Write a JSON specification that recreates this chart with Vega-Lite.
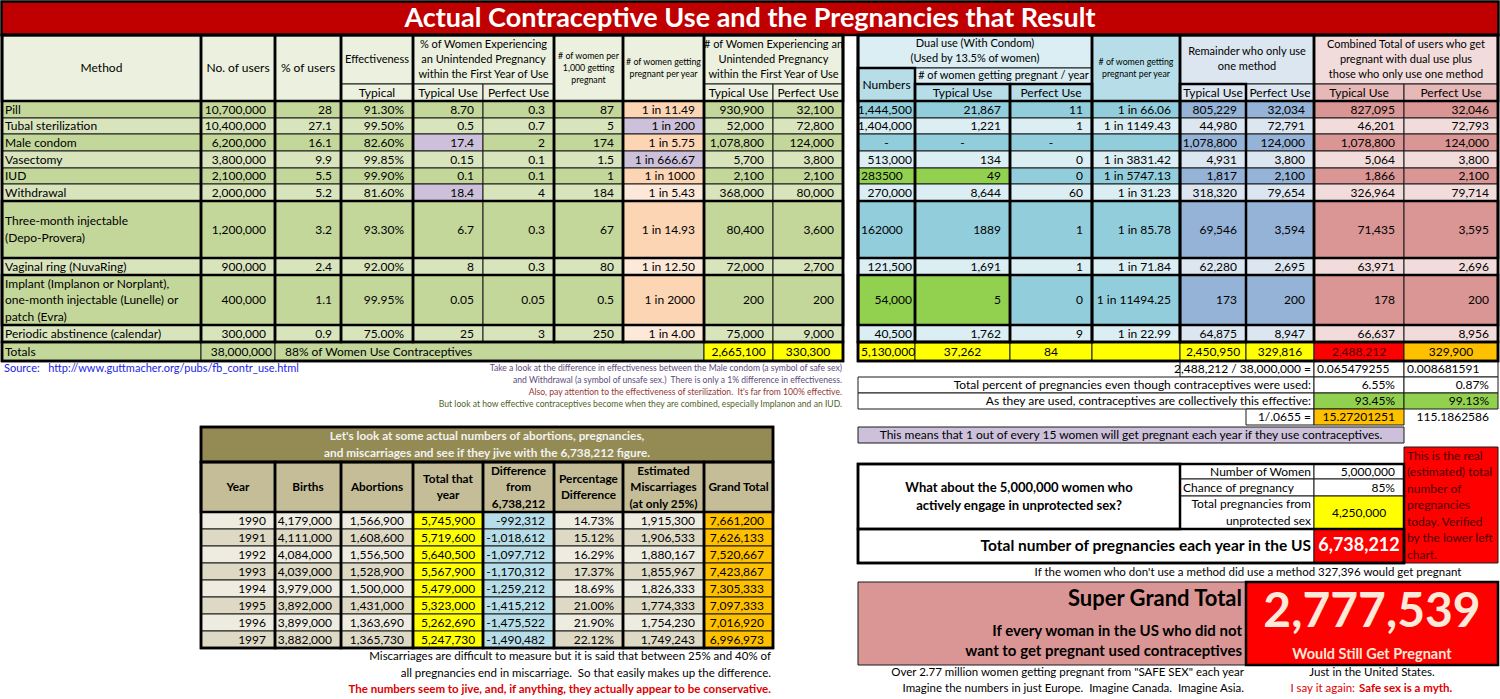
{
"$schema":"https://vega.github.io/schema/vega-lite/v6.json",
"width":1500,"height":699,
"autosize":{"type":"fit","contains":"padding"},
"padding":0,
"background":"#FFFFFF",
"config":{"view":{"stroke":null},"text":{"font":"Lato","baseline":"middle","lineBreak":"\n"}},
"datasets":{
"gx":[{"g":"T0","p":1.5},{"g":"L0","p":2},{"g":"L1","p":201},{"g":"L2","p":275},{"g":"L3","p":341},{"g":"L4","p":413},{"g":"L5","p":483},{"g":"L6","p":554},{"g":"L7","p":623},{"g":"L8","p":704},{"g":"L9","p":773},{"g":"L10","p":843},{"g":"R0","p":858},{"g":"R1","p":915},{"g":"R2","p":1010},{"g":"R3","p":1092},{"g":"R4","p":1180},{"g":"R5","p":1246},{"g":"R6","p":1314},{"g":"S2","p":1357},{"g":"R7","p":1404},{"g":"R8","p":1498},{"g":"T1","p":1498.5}],
"gy":[{"g":"Y0","p":1.5},{"g":"H0","p":35},{"g":"H1","p":68},{"g":"H2","p":84},{"g":"D0","p":101},{"g":"D1","p":118},{"g":"D2","p":134},{"g":"D3","p":151},{"g":"D4","p":168},{"g":"D5","p":184},{"g":"D6","p":201},{"g":"D7","p":258},{"g":"D8","p":275},{"g":"D9","p":325},{"g":"D10","p":342},{"g":"D11","p":361},{"g":"N1","p":374},{"g":"E1","p":377},{"g":"N2","p":386},{"g":"E2","p":393},{"g":"N3","p":398},{"g":"E3","p":409},{"g":"N4","p":410},{"g":"E4","p":425},{"g":"E5","p":427},{"g":"E6","p":443},{"g":"F0","p":447},{"g":"O1","p":462},{"g":"F1","p":464},{"g":"F2","p":479},{"g":"F3","p":496},{"g":"K0","p":512},{"g":"F4","p":529},{"g":"K1","p":529},{"g":"K2","p":546},{"g":"F5","p":563},{"g":"K3","p":563},{"g":"K4","p":580},{"g":"G0","p":582},{"g":"K5","p":597},{"g":"K6","p":614},{"g":"P1","p":616},{"g":"K7","p":631},{"g":"Q1","p":644},{"g":"K8","p":648},{"g":"G1","p":665},{"g":"M1","p":666},{"g":"G2","p":681},{"g":"M2","p":682},{"g":"G3","p":697},{"g":"M3","p":698}],
"cells":[
{"t":"Actual Contraceptive Use and the Pregnancies that Result","c0":"T0","c1":"T1","r0":"Y0","r1":"H0","k":"ttl","bg":"tr","tone":"wht"},
{"t":"Method","c0":"L0","c1":"L1","r0":"H0","r1":"D0","k":"ctr","bg":"lh"},
{"t":"No. of users","c0":"L1","c1":"L2","r0":"H0","r1":"D0","k":"ctr","bg":"lh"},
{"t":"% of users","c0":"L2","c1":"L3","r0":"H0","r1":"D0","k":"ctr","bg":"lh"},
{"t":"Effectiveness","c0":"L3","c1":"L4","r0":"H0","r1":"H2","k":"hdr","bg":"lh"},
{"t":"Typical","c0":"L3","c1":"L4","r0":"H2","r1":"D0","k":"ctr","bg":"lh"},
{"t":"% of Women Experiencing\nan Unintended Pregnancy\nwithin the First Year of Use","c0":"L4","c1":"L6","r0":"H0","r1":"H2","k":"hdr","bg":"lh"},
{"t":"Typical Use","c0":"L4","c1":"L5","r0":"H2","r1":"D0","k":"ctr","bg":"lh"},
{"t":"Perfect Use","c0":"L5","c1":"L6","r0":"H2","r1":"D0","k":"ctr","bg":"lh"},
{"t":"# of women per\n1,000 getting\npregnant","c0":"L6","c1":"L7","r0":"H0","r1":"D0","k":"hdrs","bg":"lh"},
{"t":"# of women getting\npregnant per year","c0":"L7","c1":"L8","r0":"H0","r1":"D0","k":"hdrs","bg":"lh"},
{"t":"# of Women Experiencing an\nUnintended Pregnancy\nwithin the First Year of Use","c0":"L8","c1":"L10","r0":"H0","r1":"H2","k":"hdr","bg":"lh"},
{"t":"Typical Use","c0":"L8","c1":"L9","r0":"H2","r1":"D0","k":"ctr","bg":"lh"},
{"t":"Perfect Use","c0":"L9","c1":"L10","r0":"H2","r1":"D0","k":"ctr","bg":"lh"},

{"t":"Pill","c0":"L0","c1":"L1","r0":"D0","r1":"D1","k":"lab","bg":"gd"},
{"t":"10,700,000","c0":"L1","c1":"L2","r0":"D0","r1":"D1","k":"num","bg":"gd"},
{"t":"28","c0":"L2","c1":"L3","r0":"D0","r1":"D1","k":"num","bg":"gd"},
{"t":"91.30%","c0":"L3","c1":"L4","r0":"D0","r1":"D1","k":"num","bg":"gd"},
{"t":"8.70","c0":"L4","c1":"L5","r0":"D0","r1":"D1","k":"num","bg":"gd"},
{"t":"0.3","c0":"L5","c1":"L6","r0":"D0","r1":"D1","k":"num","bg":"gd"},
{"t":"87","c0":"L6","c1":"L7","r0":"D0","r1":"D1","k":"num","bg":"gd"},
{"t":"1 in 11.49","c0":"L7","c1":"L8","r0":"D0","r1":"D1","k":"num","bg":"po"},
{"t":"930,900","c0":"L8","c1":"L9","r0":"D0","r1":"D1","k":"num","bg":"gd"},
{"t":"32,100","c0":"L9","c1":"L10","r0":"D0","r1":"D1","k":"num","bg":"gd"},

{"t":"Tubal sterilization","c0":"L0","c1":"L1","r0":"D1","r1":"D2","k":"lab","bg":"gl"},
{"t":"10,400,000","c0":"L1","c1":"L2","r0":"D1","r1":"D2","k":"num","bg":"gl"},
{"t":"27.1","c0":"L2","c1":"L3","r0":"D1","r1":"D2","k":"num","bg":"gl"},
{"t":"99.50%","c0":"L3","c1":"L4","r0":"D1","r1":"D2","k":"num","bg":"gl"},
{"t":"0.5","c0":"L4","c1":"L5","r0":"D1","r1":"D2","k":"num","bg":"gl"},
{"t":"0.7","c0":"L5","c1":"L6","r0":"D1","r1":"D2","k":"num","bg":"gl"},
{"t":"5","c0":"L6","c1":"L7","r0":"D1","r1":"D2","k":"num","bg":"gl"},
{"t":"1 in 200","c0":"L7","c1":"L8","r0":"D1","r1":"D2","k":"num","bg":"pu"},
{"t":"52,000","c0":"L8","c1":"L9","r0":"D1","r1":"D2","k":"num","bg":"gl"},
{"t":"72,800","c0":"L9","c1":"L10","r0":"D1","r1":"D2","k":"num","bg":"gl"},

{"t":"Male condom","c0":"L0","c1":"L1","r0":"D2","r1":"D3","k":"lab","bg":"gd"},
{"t":"6,200,000","c0":"L1","c1":"L2","r0":"D2","r1":"D3","k":"num","bg":"gd"},
{"t":"16.1","c0":"L2","c1":"L3","r0":"D2","r1":"D3","k":"num","bg":"gd"},
{"t":"82.60%","c0":"L3","c1":"L4","r0":"D2","r1":"D3","k":"num","bg":"gd"},
{"t":"17.4","c0":"L4","c1":"L5","r0":"D2","r1":"D3","k":"num","bg":"pu"},
{"t":"2","c0":"L5","c1":"L6","r0":"D2","r1":"D3","k":"num","bg":"gd"},
{"t":"174","c0":"L6","c1":"L7","r0":"D2","r1":"D3","k":"num","bg":"gd"},
{"t":"1 in 5.75","c0":"L7","c1":"L8","r0":"D2","r1":"D3","k":"num","bg":"po"},
{"t":"1,078,800","c0":"L8","c1":"L9","r0":"D2","r1":"D3","k":"num","bg":"gd"},
{"t":"124,000","c0":"L9","c1":"L10","r0":"D2","r1":"D3","k":"num","bg":"gd"},

{"t":"Vasectomy","c0":"L0","c1":"L1","r0":"D3","r1":"D4","k":"lab","bg":"gl"},
{"t":"3,800,000","c0":"L1","c1":"L2","r0":"D3","r1":"D4","k":"num","bg":"gl"},
{"t":"9.9","c0":"L2","c1":"L3","r0":"D3","r1":"D4","k":"num","bg":"gl"},
{"t":"99.85%","c0":"L3","c1":"L4","r0":"D3","r1":"D4","k":"num","bg":"gl"},
{"t":"0.15","c0":"L4","c1":"L5","r0":"D3","r1":"D4","k":"num","bg":"gl"},
{"t":"0.1","c0":"L5","c1":"L6","r0":"D3","r1":"D4","k":"num","bg":"gl"},
{"t":"1.5","c0":"L6","c1":"L7","r0":"D3","r1":"D4","k":"num","bg":"gl"},
{"t":"1 in 666.67","c0":"L7","c1":"L8","r0":"D3","r1":"D4","k":"num","bg":"pu"},
{"t":"5,700","c0":"L8","c1":"L9","r0":"D3","r1":"D4","k":"num","bg":"gl"},
{"t":"3,800","c0":"L9","c1":"L10","r0":"D3","r1":"D4","k":"num","bg":"gl"},

{"t":"IUD","c0":"L0","c1":"L1","r0":"D4","r1":"D5","k":"lab","bg":"gd"},
{"t":"2,100,000","c0":"L1","c1":"L2","r0":"D4","r1":"D5","k":"num","bg":"gd"},
{"t":"5.5","c0":"L2","c1":"L3","r0":"D4","r1":"D5","k":"num","bg":"gd"},
{"t":"99.90%","c0":"L3","c1":"L4","r0":"D4","r1":"D5","k":"num","bg":"gd"},
{"t":"0.1","c0":"L4","c1":"L5","r0":"D4","r1":"D5","k":"num","bg":"gd"},
{"t":"0.1","c0":"L5","c1":"L6","r0":"D4","r1":"D5","k":"num","bg":"gd"},
{"t":"1","c0":"L6","c1":"L7","r0":"D4","r1":"D5","k":"num","bg":"gd"},
{"t":"1 in 1000","c0":"L7","c1":"L8","r0":"D4","r1":"D5","k":"num","bg":"po"},
{"t":"2,100","c0":"L8","c1":"L9","r0":"D4","r1":"D5","k":"num","bg":"gd"},
{"t":"2,100","c0":"L9","c1":"L10","r0":"D4","r1":"D5","k":"num","bg":"gd"},

{"t":"Withdrawal","c0":"L0","c1":"L1","r0":"D5","r1":"D6","k":"lab","bg":"gl"},
{"t":"2,000,000","c0":"L1","c1":"L2","r0":"D5","r1":"D6","k":"num","bg":"gl"},
{"t":"5.2","c0":"L2","c1":"L3","r0":"D5","r1":"D6","k":"num","bg":"gl"},
{"t":"81.60%","c0":"L3","c1":"L4","r0":"D5","r1":"D6","k":"num","bg":"gl"},
{"t":"18.4","c0":"L4","c1":"L5","r0":"D5","r1":"D6","k":"num","bg":"pu"},
{"t":"4","c0":"L5","c1":"L6","r0":"D5","r1":"D6","k":"num","bg":"gl"},
{"t":"184","c0":"L6","c1":"L7","r0":"D5","r1":"D6","k":"num","bg":"gl"},
{"t":"1 in 5.43","c0":"L7","c1":"L8","r0":"D5","r1":"D6","k":"num","bg":"pl"},
{"t":"368,000","c0":"L8","c1":"L9","r0":"D5","r1":"D6","k":"num","bg":"gl"},
{"t":"80,000","c0":"L9","c1":"L10","r0":"D5","r1":"D6","k":"num","bg":"gl"},

{"t":"Three-month injectable\n(Depo-Provera)","c0":"L0","c1":"L1","r0":"D6","r1":"D7","k":"lab","bg":"gd"},
{"t":"1,200,000","c0":"L1","c1":"L2","r0":"D6","r1":"D7","k":"num","bg":"gd"},
{"t":"3.2","c0":"L2","c1":"L3","r0":"D6","r1":"D7","k":"num","bg":"gd"},
{"t":"93.30%","c0":"L3","c1":"L4","r0":"D6","r1":"D7","k":"num","bg":"gd"},
{"t":"6.7","c0":"L4","c1":"L5","r0":"D6","r1":"D7","k":"num","bg":"gd"},
{"t":"0.3","c0":"L5","c1":"L6","r0":"D6","r1":"D7","k":"num","bg":"gd"},
{"t":"67","c0":"L6","c1":"L7","r0":"D6","r1":"D7","k":"num","bg":"gd"},
{"t":"1 in 14.93","c0":"L7","c1":"L8","r0":"D6","r1":"D7","k":"num","bg":"po"},
{"t":"80,400","c0":"L8","c1":"L9","r0":"D6","r1":"D7","k":"num","bg":"gd"},
{"t":"3,600","c0":"L9","c1":"L10","r0":"D6","r1":"D7","k":"num","bg":"gd"},

{"t":"Vaginal ring (NuvaRing)","c0":"L0","c1":"L1","r0":"D7","r1":"D8","k":"lab","bg":"gl"},
{"t":"900,000","c0":"L1","c1":"L2","r0":"D7","r1":"D8","k":"num","bg":"gl"},
{"t":"2.4","c0":"L2","c1":"L3","r0":"D7","r1":"D8","k":"num","bg":"gl"},
{"t":"92.00%","c0":"L3","c1":"L4","r0":"D7","r1":"D8","k":"num","bg":"gl"},
{"t":"8","c0":"L4","c1":"L5","r0":"D7","r1":"D8","k":"num","bg":"gl"},
{"t":"0.3","c0":"L5","c1":"L6","r0":"D7","r1":"D8","k":"num","bg":"gl"},
{"t":"80","c0":"L6","c1":"L7","r0":"D7","r1":"D8","k":"num","bg":"gl"},
{"t":"1 in 12.50","c0":"L7","c1":"L8","r0":"D7","r1":"D8","k":"num","bg":"pl"},
{"t":"72,000","c0":"L8","c1":"L9","r0":"D7","r1":"D8","k":"num","bg":"gl"},
{"t":"2,700","c0":"L9","c1":"L10","r0":"D7","r1":"D8","k":"num","bg":"gl"},

{"t":"Implant (Implanon or Norplant),\none-month injectable (Lunelle) or\npatch (Evra)","c0":"L0","c1":"L1","r0":"D8","r1":"D9","k":"lab","bg":"gd"},
{"t":"400,000","c0":"L1","c1":"L2","r0":"D8","r1":"D9","k":"num","bg":"gd"},
{"t":"1.1","c0":"L2","c1":"L3","r0":"D8","r1":"D9","k":"num","bg":"gd"},
{"t":"99.95%","c0":"L3","c1":"L4","r0":"D8","r1":"D9","k":"num","bg":"gd"},
{"t":"0.05","c0":"L4","c1":"L5","r0":"D8","r1":"D9","k":"num","bg":"gd"},
{"t":"0.05","c0":"L5","c1":"L6","r0":"D8","r1":"D9","k":"num","bg":"gd"},
{"t":"0.5","c0":"L6","c1":"L7","r0":"D8","r1":"D9","k":"num","bg":"gd"},
{"t":"1 in 2000","c0":"L7","c1":"L8","r0":"D8","r1":"D9","k":"num","bg":"po"},
{"t":"200","c0":"L8","c1":"L9","r0":"D8","r1":"D9","k":"num","bg":"gd"},
{"t":"200","c0":"L9","c1":"L10","r0":"D8","r1":"D9","k":"num","bg":"gd"},

{"t":"Periodic abstinence (calendar)","c0":"L0","c1":"L1","r0":"D9","r1":"D10","k":"lab","bg":"gl"},
{"t":"300,000","c0":"L1","c1":"L2","r0":"D9","r1":"D10","k":"num","bg":"gl"},
{"t":"0.9","c0":"L2","c1":"L3","r0":"D9","r1":"D10","k":"num","bg":"gl"},
{"t":"75.00%","c0":"L3","c1":"L4","r0":"D9","r1":"D10","k":"num","bg":"gl"},
{"t":"25","c0":"L4","c1":"L5","r0":"D9","r1":"D10","k":"num","bg":"gl"},
{"t":"3","c0":"L5","c1":"L6","r0":"D9","r1":"D10","k":"num","bg":"gl"},
{"t":"250","c0":"L6","c1":"L7","r0":"D9","r1":"D10","k":"num","bg":"gl"},
{"t":"1 in 4.00","c0":"L7","c1":"L8","r0":"D9","r1":"D10","k":"num","bg":"pl"},
{"t":"75,000","c0":"L8","c1":"L9","r0":"D9","r1":"D10","k":"num","bg":"gl"},
{"t":"9,000","c0":"L9","c1":"L10","r0":"D9","r1":"D10","k":"num","bg":"gl"},

{"t":"Totals","c0":"L0","c1":"L1","r0":"D10","r1":"D11","k":"lab","bg":"gd"},
{"t":"38,000,000","c0":"L1","c1":"L2","r0":"D10","r1":"D11","k":"numt","bg":"gd"},
{"t":"88% of Women Use Contraceptives","c0":"L2","c1":"L8","r0":"D10","r1":"D11","k":"labi","bg":"gd"},
{"t":"2,665,100","c0":"L8","c1":"L9","r0":"D10","r1":"D11","k":"ctr","bg":"yl"},
{"t":"330,300","c0":"L9","c1":"L10","r0":"D10","r1":"D11","k":"ctr","bg":"yl"},

{"t":"Dual use (With Condom)\n(Used by 13.5% of women)","c0":"R0","c1":"R3","r0":"H0","r1":"H1","k":"hdr","bg":"bl"},
{"t":"Numbers","c0":"R0","c1":"R1","r0":"H1","r1":"D0","k":"ctr","bg":"bm"},
{"t":"# of women getting pregnant / year","c0":"R1","c1":"R3","r0":"H1","r1":"H2","k":"hdr","bg":"bl"},
{"t":"Typical Use","c0":"R1","c1":"R2","r0":"H2","r1":"D0","k":"ctr","bg":"bm"},
{"t":"Perfect Use","c0":"R2","c1":"R3","r0":"H2","r1":"D0","k":"ctr","bg":"bm"},
{"t":"# of women getting\npregnant per year","c0":"R3","c1":"R4","r0":"H0","r1":"D0","k":"hdrs","bg":"bm"},
{"t":"Remainder who only use\none method","c0":"R4","c1":"R6","r0":"H0","r1":"H2","k":"hdr","bg":"rl"},
{"t":"Typical Use","c0":"R4","c1":"R5","r0":"H2","r1":"D0","k":"ctr","bg":"rl"},
{"t":"Perfect Use","c0":"R5","c1":"R6","r0":"H2","r1":"D0","k":"ctr","bg":"rl"},
{"t":"Combined Total of users who get\npregnant with dual use plus\nthose who only use one method","c0":"R6","c1":"R8","r0":"H0","r1":"H2","k":"hdr","bg":"kl"},
{"t":"Typical Use","c0":"R6","c1":"R7","r0":"H2","r1":"D0","k":"ctr","bg":"km"},
{"t":"Perfect Use","c0":"R7","c1":"R8","r0":"H2","r1":"D0","k":"ctr","bg":"km"},

{"t":"1,444,500","c0":"R0","c1":"R1","r0":"D0","r1":"D1","k":"numt","bg":"bd"},
{"t":"21,867","c0":"R1","c1":"R2","r0":"D0","r1":"D1","k":"num","bg":"bd"},
{"t":"11","c0":"R2","c1":"R3","r0":"D0","r1":"D1","k":"num","bg":"bd"},
{"t":"1 in 66.06","c0":"R3","c1":"R4","r0":"D0","r1":"D1","k":"num","bg":"bd"},
{"t":"805,229","c0":"R4","c1":"R5","r0":"D0","r1":"D1","k":"num","bg":"rd"},
{"t":"32,034","c0":"R5","c1":"R6","r0":"D0","r1":"D1","k":"num","bg":"rd"},
{"t":"827,095","c0":"R6","c1":"R7","r0":"D0","r1":"D1","k":"num","bg":"kd"},
{"t":"32,046","c0":"R7","c1":"R8","r0":"D0","r1":"D1","k":"num","bg":"kd"},

{"t":"1,404,000","c0":"R0","c1":"R1","r0":"D1","r1":"D2","k":"numt","bg":"bl"},
{"t":"1,221","c0":"R1","c1":"R2","r0":"D1","r1":"D2","k":"num","bg":"bl"},
{"t":"1","c0":"R2","c1":"R3","r0":"D1","r1":"D2","k":"num","bg":"bl"},
{"t":"1 in 1149.43","c0":"R3","c1":"R4","r0":"D1","r1":"D2","k":"num","bg":"bl"},
{"t":"44,980","c0":"R4","c1":"R5","r0":"D1","r1":"D2","k":"num","bg":"rl"},
{"t":"72,791","c0":"R5","c1":"R6","r0":"D1","r1":"D2","k":"num","bg":"rl"},
{"t":"46,201","c0":"R6","c1":"R7","r0":"D1","r1":"D2","k":"num","bg":"kl"},
{"t":"72,793","c0":"R7","c1":"R8","r0":"D1","r1":"D2","k":"num","bg":"kl"},

{"t":"-","c0":"R0","c1":"R1","r0":"D2","r1":"D3","k":"ctr","bg":"bd"},
{"t":"-","c0":"R1","c1":"R2","r0":"D2","r1":"D3","k":"ctr","bg":"bd"},
{"t":"-","c0":"R2","c1":"R3","r0":"D2","r1":"D3","k":"ctr","bg":"bd"},
{"t":"","c0":"R3","c1":"R4","r0":"D2","r1":"D3","k":"num","bg":"bd"},
{"t":"1,078,800","c0":"R4","c1":"R5","r0":"D2","r1":"D3","k":"num","bg":"rd"},
{"t":"124,000","c0":"R5","c1":"R6","r0":"D2","r1":"D3","k":"num","bg":"rd"},
{"t":"1,078,800","c0":"R6","c1":"R7","r0":"D2","r1":"D3","k":"num","bg":"kd"},
{"t":"124,000","c0":"R7","c1":"R8","r0":"D2","r1":"D3","k":"num","bg":"kd"},

{"t":"513,000","c0":"R0","c1":"R1","r0":"D3","r1":"D4","k":"numt","bg":"bl"},
{"t":"134","c0":"R1","c1":"R2","r0":"D3","r1":"D4","k":"num","bg":"bl"},
{"t":"0","c0":"R2","c1":"R3","r0":"D3","r1":"D4","k":"num","bg":"bl"},
{"t":"1 in 3831.42","c0":"R3","c1":"R4","r0":"D3","r1":"D4","k":"num","bg":"bl"},
{"t":"4,931","c0":"R4","c1":"R5","r0":"D3","r1":"D4","k":"num","bg":"rl"},
{"t":"3,800","c0":"R5","c1":"R6","r0":"D3","r1":"D4","k":"num","bg":"rl"},
{"t":"5,064","c0":"R6","c1":"R7","r0":"D3","r1":"D4","k":"num","bg":"kl"},
{"t":"3,800","c0":"R7","c1":"R8","r0":"D3","r1":"D4","k":"num","bg":"kl"},

{"t":"283500","c0":"R0","c1":"R1","r0":"D4","r1":"D5","k":"lab","bg":"gr"},
{"t":"49","c0":"R1","c1":"R2","r0":"D4","r1":"D5","k":"num","bg":"gr"},
{"t":"0","c0":"R2","c1":"R3","r0":"D4","r1":"D5","k":"num","bg":"bd"},
{"t":"1 in 5747.13","c0":"R3","c1":"R4","r0":"D4","r1":"D5","k":"num","bg":"bd"},
{"t":"1,817","c0":"R4","c1":"R5","r0":"D4","r1":"D5","k":"num","bg":"rd"},
{"t":"2,100","c0":"R5","c1":"R6","r0":"D4","r1":"D5","k":"num","bg":"rd"},
{"t":"1,866","c0":"R6","c1":"R7","r0":"D4","r1":"D5","k":"num","bg":"kd"},
{"t":"2,100","c0":"R7","c1":"R8","r0":"D4","r1":"D5","k":"num","bg":"kd"},

{"t":"270,000","c0":"R0","c1":"R1","r0":"D5","r1":"D6","k":"numt","bg":"bl"},
{"t":"8,644","c0":"R1","c1":"R2","r0":"D5","r1":"D6","k":"num","bg":"bl"},
{"t":"60","c0":"R2","c1":"R3","r0":"D5","r1":"D6","k":"num","bg":"bl"},
{"t":"1 in 31.23","c0":"R3","c1":"R4","r0":"D5","r1":"D6","k":"num","bg":"bl"},
{"t":"318,320","c0":"R4","c1":"R5","r0":"D5","r1":"D6","k":"num","bg":"rl"},
{"t":"79,654","c0":"R5","c1":"R6","r0":"D5","r1":"D6","k":"num","bg":"rl"},
{"t":"326,964","c0":"R6","c1":"R7","r0":"D5","r1":"D6","k":"num","bg":"kl"},
{"t":"79,714","c0":"R7","c1":"R8","r0":"D5","r1":"D6","k":"num","bg":"kl"},

{"t":"162000","c0":"R0","c1":"R1","r0":"D6","r1":"D7","k":"lab","bg":"bd"},
{"t":"1889","c0":"R1","c1":"R2","r0":"D6","r1":"D7","k":"num","bg":"bd"},
{"t":"1","c0":"R2","c1":"R3","r0":"D6","r1":"D7","k":"num","bg":"bd"},
{"t":"1 in 85.78","c0":"R3","c1":"R4","r0":"D6","r1":"D7","k":"num","bg":"bd"},
{"t":"69,546","c0":"R4","c1":"R5","r0":"D6","r1":"D7","k":"num","bg":"rd"},
{"t":"3,594","c0":"R5","c1":"R6","r0":"D6","r1":"D7","k":"num","bg":"rd"},
{"t":"71,435","c0":"R6","c1":"R7","r0":"D6","r1":"D7","k":"num","bg":"kd"},
{"t":"3,595","c0":"R7","c1":"R8","r0":"D6","r1":"D7","k":"num","bg":"kd"},

{"t":"121,500","c0":"R0","c1":"R1","r0":"D7","r1":"D8","k":"numt","bg":"bl"},
{"t":"1,691","c0":"R1","c1":"R2","r0":"D7","r1":"D8","k":"num","bg":"bl"},
{"t":"1","c0":"R2","c1":"R3","r0":"D7","r1":"D8","k":"num","bg":"bl"},
{"t":"1 in 71.84","c0":"R3","c1":"R4","r0":"D7","r1":"D8","k":"num","bg":"bl"},
{"t":"62,280","c0":"R4","c1":"R5","r0":"D7","r1":"D8","k":"num","bg":"rl"},
{"t":"2,695","c0":"R5","c1":"R6","r0":"D7","r1":"D8","k":"num","bg":"rl"},
{"t":"63,971","c0":"R6","c1":"R7","r0":"D7","r1":"D8","k":"num","bg":"kl"},
{"t":"2,696","c0":"R7","c1":"R8","r0":"D7","r1":"D8","k":"num","bg":"kl"},

{"t":"54,000","c0":"R0","c1":"R1","r0":"D8","r1":"D9","k":"numt","bg":"gr"},
{"t":"5","c0":"R1","c1":"R2","r0":"D8","r1":"D9","k":"num","bg":"gr"},
{"t":"0","c0":"R2","c1":"R3","r0":"D8","r1":"D9","k":"num","bg":"bd"},
{"t":"1 in 11494.25","c0":"R3","c1":"R4","r0":"D8","r1":"D9","k":"num","bg":"bd"},
{"t":"173","c0":"R4","c1":"R5","r0":"D8","r1":"D9","k":"num","bg":"rd"},
{"t":"200","c0":"R5","c1":"R6","r0":"D8","r1":"D9","k":"num","bg":"rd"},
{"t":"178","c0":"R6","c1":"R7","r0":"D8","r1":"D9","k":"num","bg":"kd"},
{"t":"200","c0":"R7","c1":"R8","r0":"D8","r1":"D9","k":"num","bg":"kd"},

{"t":"40,500","c0":"R0","c1":"R1","r0":"D9","r1":"D10","k":"numt","bg":"bl"},
{"t":"1,762","c0":"R1","c1":"R2","r0":"D9","r1":"D10","k":"num","bg":"bl"},
{"t":"9","c0":"R2","c1":"R3","r0":"D9","r1":"D10","k":"num","bg":"bl"},
{"t":"1 in 22.99","c0":"R3","c1":"R4","r0":"D9","r1":"D10","k":"num","bg":"bl"},
{"t":"64,875","c0":"R4","c1":"R5","r0":"D9","r1":"D10","k":"num","bg":"rl"},
{"t":"8,947","c0":"R5","c1":"R6","r0":"D9","r1":"D10","k":"num","bg":"rl"},
{"t":"66,637","c0":"R6","c1":"R7","r0":"D9","r1":"D10","k":"num","bg":"kl"},
{"t":"8,956","c0":"R7","c1":"R8","r0":"D9","r1":"D10","k":"num","bg":"kl"},

{"t":"5,130,000","c0":"R0","c1":"R1","r0":"D10","r1":"D11","k":"lab","bg":"yl"},
{"t":"37,262","c0":"R1","c1":"R2","r0":"D10","r1":"D11","k":"ctr","bg":"yl"},
{"t":"84","c0":"R2","c1":"R3","r0":"D10","r1":"D11","k":"ctr","bg":"yl"},
{"t":"","c0":"R3","c1":"R4","r0":"D10","r1":"D11","k":"ctr","bg":"yl"},
{"t":"2,450,950","c0":"R4","c1":"R5","r0":"D10","r1":"D11","k":"ctr","bg":"yl"},
{"t":"329,816","c0":"R5","c1":"R6","r0":"D10","r1":"D11","k":"ctr","bg":"yl"},
{"t":"2,488,212","c0":"R6","c1":"R7","r0":"D10","r1":"D11","k":"ctr","bg":"rr","tone":"dred"},
{"t":"329,900","c0":"R7","c1":"R8","r0":"D10","r1":"D11","k":"ctr","bg":"or"},

{"t":"2,488,212 / 38,000,000 =","c0":"R4","c1":"R6","r0":"D11","r1":"E1","k":"numt","bg":"wh"},
{"t":"0.065479255","c0":"R6","c1":"R7","r0":"D11","r1":"E1","k":"lab","bg":"wh"},
{"t":"0.008681591","c0":"R7","c1":"R8","r0":"D11","r1":"E1","k":"lab","bg":"wh"},
{"t":"Total percent of pregnancies even though contraceptives were used:","c0":"R0","c1":"R6","r0":"E1","r1":"E2","k":"numt","bg":"wh"},
{"t":"6.55%","c0":"R6","c1":"R7","r0":"E1","r1":"E2","k":"num","bg":"wh"},
{"t":"0.87%","c0":"R7","c1":"R8","r0":"E1","r1":"E2","k":"num","bg":"wh"},
{"t":"As they are used, contraceptives are collectively this effective:","c0":"R0","c1":"R6","r0":"E2","r1":"E3","k":"numt","bg":"wh"},
{"t":"93.45%","c0":"R6","c1":"R7","r0":"E2","r1":"E3","k":"num","bg":"gr"},
{"t":"99.13%","c0":"R7","c1":"R8","r0":"E2","r1":"E3","k":"num","bg":"gr"},
{"t":"1/.0655 =","c0":"R5","c1":"R6","r0":"E3","r1":"E4","k":"numt","bg":"wh"},
{"t":"15.27201251","c0":"R6","c1":"R7","r0":"E3","r1":"E4","k":"num","bg":"or"},
{"t":"115.1862586","c0":"R7","c1":"R8","r0":"E3","r1":"E4","k":"num"},
{"t":"This means that 1 out of every 15 women will get pregnant each year if they use contraceptives.","c0":"R0","c1":"R7","r0":"E5","r1":"E6","k":"ctr","bg":"pu"},

{"t":"This is the real\n(estimated) total\nnumber of\npregnancies\ntoday.  Verified\nby the lower left\nchart.","c0":"R7","c1":"R8","r0":"F0","r1":"F5","k":"lab","bg":"rr","tone":"dred"},
{"t":"What about the 5,000,000 women who\nactively engage in unprotected sex?","c0":"R0","c1":"R4","r0":"F1","r1":"F4","k":"q","bg":"wh"},
{"t":"Number of Women","c0":"R4","c1":"R6","r0":"F1","r1":"F2","k":"numt","bg":"wh"},
{"t":"5,000,000","c0":"R6","c1":"R7","r0":"F1","r1":"F2","k":"num","bg":"wh"},
{"t":"Chance of pregnancy","c0":"R4","c1":"R6","r0":"F2","r1":"F3","k":"lab","bg":"wh"},
{"t":"85%","c0":"R6","c1":"R7","r0":"F2","r1":"F3","k":"num","bg":"wh"},
{"t":"Total pregnancies from\nunprotected sex","c0":"R4","c1":"R6","r0":"F3","r1":"F4","k":"numt","bg":"wh"},
{"t":"4,250,000","c0":"R6","c1":"R7","r0":"F3","r1":"F4","k":"ctr","bg":"yl"},
{"t":"Total number of pregnancies each year in the US","c0":"R0","c1":"R6","r0":"F4","r1":"F5","k":"tot","bg":"wh"},
{"t":"6,738,212","c0":"R6","c1":"R7","r0":"F4","r1":"F5","k":"val","bg":"rr","tone":"wht"},
{"t":"If the women who don't use a method did use a method  327,396 would get pregnant","c0":"R3","c1":"R7","r0":"F5","r1":"G0","k":"fc"},

{"t":"","c0":"R0","c1":"R5","r0":"G0","r1":"G1","k":"box","bg":"kd"},
{"t":"Super Grand Total","c0":"R0","c1":"R5","r0":"G0","r1":"P1","k":"sgt"},
{"t":"If every woman in the US who did not\nwant to get pregnant used contraceptives","c0":"R0","c1":"R5","r0":"P1","r1":"G1","k":"sgs"},
{"t":"","c0":"R5","c1":"R8","r0":"G0","r1":"G1","k":"box","bg":"rr"},
{"t":"2,777,539","c0":"R5","c1":"R8","r0":"G0","r1":"Q1","k":"big","tone":"crm"},
{"t":"Would Still Get Pregnant","c0":"R5","c1":"R8","r0":"Q1","r1":"G1","k":"wsg","tone":"crm"},
{"t":"Over 2.77 million women getting pregnant from \"SAFE SEX\" each year","c0":"R0","c1":"R5","r0":"G1","r1":"G2","k":"fr"},
{"t":"Imagine the numbers in just Europe.\u00a0 Imagine Canada.\u00a0 Imagine Asia.","c0":"R0","c1":"R5","r0":"G2","r1":"G3","k":"fr"},
{"t":"Just in the United States.","c0":"R5","c1":"R8","r0":"G1","r1":"G2","k":"fc"},
{"t":"I say it again:","c0":"R0","c1":"S2","r0":"G2","r1":"G3","k":"fr","tone":"red"},
{"t":"Safe sex is a myth.","c0":"S2","c1":"R8","r0":"G2","r1":"G3","k":"flb","tone":"red"},

{"t":"Source:\u00a0\u00a0 http://www.guttmacher.org/pubs/fb_contr_use.html","c0":"L0","c1":"L8","r0":"D11","r1":"E1","k":"src","tone":"blu"},
{"t":"Take a look at the difference in effectiveness between the Male condom (a symbol of safe sex)","c0":"L0","c1":"L10","r0":"D11","r1":"N1","k":"note","tone":"plm"},
{"t":"and Withdrawal (a symbol of unsafe sex.)\u00a0 There is only a 1% difference in effectiveness.","c0":"L0","c1":"L10","r0":"N1","r1":"N2","k":"note","tone":"plm"},
{"t":"Also, pay attention to the effectiveness of sterilization.\u00a0 It's far from 100% effective.","c0":"L0","c1":"L10","r0":"N2","r1":"N3","k":"note","tone":"mrn"},
{"t":"But look at how effective contraceptives become when they are combined, especially Implanon and an IUD.","c0":"L0","c1":"L10","r0":"N3","r1":"N4","k":"note","tone":"olv"},

{"t":"Let's look at some actual numbers of abortions, pregnancies,\nand miscarriages and see if they jive with the 6,738,212 figure.","c0":"L1","c1":"L9","r0":"E5","r1":"O1","k":"hdrb","bg":"ol","tone":"owh"},
{"t":"Year","c0":"L1","c1":"L2","r0":"O1","r1":"K0","k":"hdrb","bg":"tn"},
{"t":"Births","c0":"L2","c1":"L3","r0":"O1","r1":"K0","k":"hdrb","bg":"tn"},
{"t":"Abortions","c0":"L3","c1":"L4","r0":"O1","r1":"K0","k":"hdrb","bg":"tn"},
{"t":"Total that\nyear","c0":"L4","c1":"L5","r0":"O1","r1":"K0","k":"hdrb","bg":"tn"},
{"t":"Difference\nfrom\n6,738,212","c0":"L5","c1":"L6","r0":"O1","r1":"K0","k":"hdrb","bg":"tn"},
{"t":"Percentage\nDifference","c0":"L6","c1":"L7","r0":"O1","r1":"K0","k":"hdrb","bg":"tn"},
{"t":"Estimated\nMiscarriages\n(at only 25%)","c0":"L7","c1":"L8","r0":"O1","r1":"K0","k":"hdrb","bg":"tn"},
{"t":"Grand Total","c0":"L8","c1":"L9","r0":"O1","r1":"K0","k":"hdrb","bg":"tn"},

{"t":"1990","c0":"L1","c1":"L2","r0":"K0","r1":"K1","k":"num","bg":"el"},
{"t":"4,179,000","c0":"L2","c1":"L3","r0":"K0","r1":"K1","k":"num","bg":"el"},
{"t":"1,566,900","c0":"L3","c1":"L4","r0":"K0","r1":"K1","k":"num","bg":"el"},
{"t":"5,745,900","c0":"L4","c1":"L5","r0":"K0","r1":"K1","k":"ctr","bg":"yl"},
{"t":"-992,312","c0":"L5","c1":"L6","r0":"K0","r1":"K1","k":"num","bg":"bm"},
{"t":"14.73%","c0":"L6","c1":"L7","r0":"K0","r1":"K1","k":"num","bg":"el"},
{"t":"1,915,300","c0":"L7","c1":"L8","r0":"K0","r1":"K1","k":"num","bg":"el"},
{"t":"7,661,200","c0":"L8","c1":"L9","r0":"K0","r1":"K1","k":"num","bg":"or"},

{"t":"1991","c0":"L1","c1":"L2","r0":"K1","r1":"K2","k":"num","bg":"et"},
{"t":"4,111,000","c0":"L2","c1":"L3","r0":"K1","r1":"K2","k":"num","bg":"et"},
{"t":"1,608,600","c0":"L3","c1":"L4","r0":"K1","r1":"K2","k":"num","bg":"et"},
{"t":"5,719,600","c0":"L4","c1":"L5","r0":"K1","r1":"K2","k":"ctr","bg":"yl"},
{"t":"-1,018,612","c0":"L5","c1":"L6","r0":"K1","r1":"K2","k":"num","bg":"bm"},
{"t":"15.12%","c0":"L6","c1":"L7","r0":"K1","r1":"K2","k":"num","bg":"et"},
{"t":"1,906,533","c0":"L7","c1":"L8","r0":"K1","r1":"K2","k":"num","bg":"et"},
{"t":"7,626,133","c0":"L8","c1":"L9","r0":"K1","r1":"K2","k":"num","bg":"or"},

{"t":"1992","c0":"L1","c1":"L2","r0":"K2","r1":"K3","k":"num","bg":"el"},
{"t":"4,084,000","c0":"L2","c1":"L3","r0":"K2","r1":"K3","k":"num","bg":"el"},
{"t":"1,556,500","c0":"L3","c1":"L4","r0":"K2","r1":"K3","k":"num","bg":"el"},
{"t":"5,640,500","c0":"L4","c1":"L5","r0":"K2","r1":"K3","k":"ctr","bg":"yl"},
{"t":"-1,097,712","c0":"L5","c1":"L6","r0":"K2","r1":"K3","k":"num","bg":"bm"},
{"t":"16.29%","c0":"L6","c1":"L7","r0":"K2","r1":"K3","k":"num","bg":"el"},
{"t":"1,880,167","c0":"L7","c1":"L8","r0":"K2","r1":"K3","k":"num","bg":"el"},
{"t":"7,520,667","c0":"L8","c1":"L9","r0":"K2","r1":"K3","k":"num","bg":"or"},

{"t":"1993","c0":"L1","c1":"L2","r0":"K3","r1":"K4","k":"num","bg":"et"},
{"t":"4,039,000","c0":"L2","c1":"L3","r0":"K3","r1":"K4","k":"num","bg":"et"},
{"t":"1,528,900","c0":"L3","c1":"L4","r0":"K3","r1":"K4","k":"num","bg":"et"},
{"t":"5,567,900","c0":"L4","c1":"L5","r0":"K3","r1":"K4","k":"ctr","bg":"yl"},
{"t":"-1,170,312","c0":"L5","c1":"L6","r0":"K3","r1":"K4","k":"num","bg":"bm"},
{"t":"17.37%","c0":"L6","c1":"L7","r0":"K3","r1":"K4","k":"num","bg":"et"},
{"t":"1,855,967","c0":"L7","c1":"L8","r0":"K3","r1":"K4","k":"num","bg":"et"},
{"t":"7,423,867","c0":"L8","c1":"L9","r0":"K3","r1":"K4","k":"num","bg":"or"},

{"t":"1994","c0":"L1","c1":"L2","r0":"K4","r1":"K5","k":"num","bg":"el"},
{"t":"3,979,000","c0":"L2","c1":"L3","r0":"K4","r1":"K5","k":"num","bg":"el"},
{"t":"1,500,000","c0":"L3","c1":"L4","r0":"K4","r1":"K5","k":"num","bg":"el"},
{"t":"5,479,000","c0":"L4","c1":"L5","r0":"K4","r1":"K5","k":"ctr","bg":"yl"},
{"t":"-1,259,212","c0":"L5","c1":"L6","r0":"K4","r1":"K5","k":"num","bg":"bm"},
{"t":"18.69%","c0":"L6","c1":"L7","r0":"K4","r1":"K5","k":"num","bg":"el"},
{"t":"1,826,333","c0":"L7","c1":"L8","r0":"K4","r1":"K5","k":"num","bg":"el"},
{"t":"7,305,333","c0":"L8","c1":"L9","r0":"K4","r1":"K5","k":"num","bg":"or"},

{"t":"1995","c0":"L1","c1":"L2","r0":"K5","r1":"K6","k":"num","bg":"et"},
{"t":"3,892,000","c0":"L2","c1":"L3","r0":"K5","r1":"K6","k":"num","bg":"et"},
{"t":"1,431,000","c0":"L3","c1":"L4","r0":"K5","r1":"K6","k":"num","bg":"et"},
{"t":"5,323,000","c0":"L4","c1":"L5","r0":"K5","r1":"K6","k":"ctr","bg":"yl"},
{"t":"-1,415,212","c0":"L5","c1":"L6","r0":"K5","r1":"K6","k":"num","bg":"bm"},
{"t":"21.00%","c0":"L6","c1":"L7","r0":"K5","r1":"K6","k":"num","bg":"et"},
{"t":"1,774,333","c0":"L7","c1":"L8","r0":"K5","r1":"K6","k":"num","bg":"et"},
{"t":"7,097,333","c0":"L8","c1":"L9","r0":"K5","r1":"K6","k":"num","bg":"or"},

{"t":"1996","c0":"L1","c1":"L2","r0":"K6","r1":"K7","k":"num","bg":"el"},
{"t":"3,899,000","c0":"L2","c1":"L3","r0":"K6","r1":"K7","k":"num","bg":"el"},
{"t":"1,363,690","c0":"L3","c1":"L4","r0":"K6","r1":"K7","k":"num","bg":"el"},
{"t":"5,262,690","c0":"L4","c1":"L5","r0":"K6","r1":"K7","k":"ctr","bg":"yl"},
{"t":"-1,475,522","c0":"L5","c1":"L6","r0":"K6","r1":"K7","k":"num","bg":"bm"},
{"t":"21.90%","c0":"L6","c1":"L7","r0":"K6","r1":"K7","k":"num","bg":"el"},
{"t":"1,754,230","c0":"L7","c1":"L8","r0":"K6","r1":"K7","k":"num","bg":"el"},
{"t":"7,016,920","c0":"L8","c1":"L9","r0":"K6","r1":"K7","k":"num","bg":"or"},

{"t":"1997","c0":"L1","c1":"L2","r0":"K7","r1":"K8","k":"num","bg":"et"},
{"t":"3,882,000","c0":"L2","c1":"L3","r0":"K7","r1":"K8","k":"num","bg":"et"},
{"t":"1,365,730","c0":"L3","c1":"L4","r0":"K7","r1":"K8","k":"num","bg":"et"},
{"t":"5,247,730","c0":"L4","c1":"L5","r0":"K7","r1":"K8","k":"ctr","bg":"yl"},
{"t":"-1,490,482","c0":"L5","c1":"L6","r0":"K7","r1":"K8","k":"num","bg":"bm"},
{"t":"22.12%","c0":"L6","c1":"L7","r0":"K7","r1":"K8","k":"num","bg":"et"},
{"t":"1,749,243","c0":"L7","c1":"L8","r0":"K7","r1":"K8","k":"num","bg":"et"},
{"t":"6,996,973","c0":"L8","c1":"L9","r0":"K7","r1":"K8","k":"num","bg":"or"},

{"t":"Miscarriages are difficult to measure but it is said that between 25% and 40% of","c0":"L1","c1":"L9","r0":"K8","r1":"M1","k":"fr"},
{"t":"all pregnancies end in miscarriage.\u00a0 So that easily makes up the difference.","c0":"L1","c1":"L9","r0":"M1","r1":"M2","k":"fr"},
{"t":"The numbers seem to jive, and, if anything, they actually appear to be conservative.","c0":"L1","c1":"L9","r0":"M2","r1":"M3","k":"frb","tone":"red"},

{"t":"","c0":"T0","c1":"T1","r0":"Y0","r1":"H0","k":"frame"},
{"t":"","c0":"L0","c1":"L10","r0":"H0","r1":"D11","k":"frame"},
{"t":"","c0":"L0","c1":"L10","r0":"H0","r1":"D0","k":"frame"},
{"t":"","c0":"L0","c1":"L1","r0":"H0","r1":"D10","k":"frame"},
{"t":"","c0":"L1","c1":"L2","r0":"H0","r1":"D10","k":"frame"},
{"t":"","c0":"L2","c1":"L3","r0":"H0","r1":"D10","k":"frame"},
{"t":"","c0":"L3","c1":"L4","r0":"H0","r1":"D10","k":"frame"},
{"t":"","c0":"L4","c1":"L6","r0":"H0","r1":"D10","k":"frame"},
{"t":"","c0":"L6","c1":"L7","r0":"H0","r1":"D10","k":"frame"},
{"t":"","c0":"L7","c1":"L8","r0":"H0","r1":"D10","k":"frame"},
{"t":"","c0":"L8","c1":"L10","r0":"H0","r1":"D10","k":"frame"},
{"t":"","c0":"L0","c1":"L10","r0":"D6","r1":"D7","k":"frame"},
{"t":"","c0":"L0","c1":"L10","r0":"D8","r1":"D9","k":"frame"},
{"t":"","c0":"L0","c1":"L10","r0":"D10","r1":"D11","k":"frame"},
{"t":"","c0":"R0","c1":"R8","r0":"H0","r1":"D11","k":"frame"},
{"t":"","c0":"R0","c1":"R8","r0":"H0","r1":"D0","k":"frame"},
{"t":"","c0":"R0","c1":"R3","r0":"H0","r1":"D10","k":"frame"},
{"t":"","c0":"R0","c1":"R1","r0":"H1","r1":"D10","k":"frame"},
{"t":"","c0":"R1","c1":"R2","r0":"H2","r1":"D10","k":"frame"},
{"t":"","c0":"R2","c1":"R3","r0":"H2","r1":"D10","k":"frame"},
{"t":"","c0":"R3","c1":"R4","r0":"H0","r1":"D10","k":"frame"},
{"t":"","c0":"R4","c1":"R6","r0":"H0","r1":"D10","k":"frame"},
{"t":"","c0":"R4","c1":"R5","r0":"H2","r1":"D10","k":"frame"},
{"t":"","c0":"R6","c1":"R8","r0":"H0","r1":"D10","k":"frame"},
{"t":"","c0":"R0","c1":"R8","r0":"D6","r1":"D7","k":"frame"},
{"t":"","c0":"R0","c1":"R8","r0":"D8","r1":"D9","k":"frame"},
{"t":"","c0":"R0","c1":"R8","r0":"D10","r1":"D11","k":"frame"},
{"t":"","c0":"R0","c1":"R7","r0":"F1","r1":"F5","k":"frame"},
{"t":"","c0":"R0","c1":"R4","r0":"F1","r1":"F4","k":"frame"},
{"t":"","c0":"R0","c1":"R7","r0":"F4","r1":"F5","k":"frame"},
{"t":"","c0":"R5","c1":"R8","r0":"G0","r1":"G1","k":"frame"},
{"t":"","c0":"L1","c1":"L9","r0":"E5","r1":"K8","k":"frame"},
{"t":"","c0":"L1","c1":"L9","r0":"E5","r1":"O1","k":"frame"},
{"t":"","c0":"L1","c1":"L9","r0":"O1","r1":"K0","k":"frame"},
{"t":"","c0":"L1","c1":"L2","r0":"O1","r1":"K8","k":"frame"},
{"t":"","c0":"L2","c1":"L3","r0":"O1","r1":"K8","k":"frame"},
{"t":"","c0":"L3","c1":"L4","r0":"O1","r1":"K8","k":"frame"},
{"t":"","c0":"L4","c1":"L5","r0":"O1","r1":"K8","k":"frame"},
{"t":"","c0":"L5","c1":"L6","r0":"O1","r1":"K8","k":"frame"},
{"t":"","c0":"L6","c1":"L7","r0":"O1","r1":"K8","k":"frame"},
{"t":"","c0":"L7","c1":"L8","r0":"O1","r1":"K8","k":"frame"},
{"t":"","c0":"L8","c1":"L9","r0":"O1","r1":"K8","k":"frame"}
]},
"data":{"name":"cells"},
"transform":[
{"window":[{"op":"row_number","as":"id"}]},
{"lookup":"c0","from":{"data":{"name":"gx"},"key":"g","fields":["p"]},"as":["x0"]},
{"lookup":"c1","from":{"data":{"name":"gx"},"key":"g","fields":["p"]},"as":["x1"]},
{"lookup":"r0","from":{"data":{"name":"gy"},"key":"g","fields":["p"]},"as":["y0"]},
{"lookup":"r1","from":{"data":{"name":"gy"},"key":"g","fields":["p"]},"as":["y1"]},
{"fold":["x0","x1"],"as":["fx","xv"]},
{"joinaggregate":[{"op":"mean","field":"xv","as":"xm"}],"groupby":["id"]},
{"filter":"datum.fx == 'x0'"},
{"fold":["y0","y1"],"as":["fy","yv"]},
{"joinaggregate":[{"op":"mean","field":"yv","as":"ym"}],"groupby":["id"]},
{"filter":"datum.fy == 'y0'"}
],
"layer":[
{"transform":[{"filter":"isValid(datum.bg)"}],
 "mark":{"type":"rect","stroke":"#1a1a1a","strokeWidth":1},
 "encoding":{
  "x":{"field":"x0","type":"quantitative","scale":{"domain":[0,1500],"nice":false,"zero":false},"axis":null},
  "x2":{"field":"x1"},
  "y":{"field":"y0","type":"quantitative","scale":{"domain":[0,699],"nice":false,"zero":false,"reverse":true},"axis":null},
  "y2":{"field":"y1"},
  "fill":{"field":"bg","type":"nominal","legend":null,"scale":{
   "domain":["tr","lh","gd","gl","po","pl","pu","yl","bl","bm","bd","gr","rl","rd","kl","km","kd","rr","or","wh","ol","tn","el","et"],
   "range":["#C00000","#EBF1DE","#C4D79B","#D8E4BC","#FCD5B4","#FDE9D9","#CCC0DA","#FFFF00","#DAEEF3","#B7DEE8","#92CDDC","#92D050","#DCE6F1","#95B3D7","#F2DCDB","#E6B8B7","#DA9694","#FF0000","#FFC000","#FFFFFF","#948A54","#C4BD97","#EEECE1","#DDD9C4"]}}
 }},
{"transform":[{"filter":"datum.k == 'frame'"}],
 "mark":{"type":"rect","filled":false,"stroke":"#000000","strokeWidth":2.5},
 "encoding":{
  "x":{"field":"x0","type":"quantitative","scale":{"domain":[0,1500],"nice":false,"zero":false},"axis":null},
  "x2":{"field":"x1"},
  "y":{"field":"y0","type":"quantitative","scale":{"domain":[0,699],"nice":false,"zero":false,"reverse":true},"axis":null},
  "y2":{"field":"y1"}
 }},
{"encoding":{
  "y":{"field":"ym","type":"quantitative","scale":{"domain":[0,699],"nice":false,"zero":false,"reverse":true},"axis":null},
  "text":{"field":"t","type":"nominal"},
  "color":{"condition":{"test":"isValid(datum.tone)","field":"tone","type":"nominal","legend":null,"scale":{
    "domain":["wht","crm","blu","plm","mrn","olv","red","dred","owh"],
    "range":["#FFFFFF","#FDE9D9","#2323E6","#604A7B","#953735","#4F6228","#E00000","#4A0000","#F2F2F2"]}},"value":"#000000"}
 },
 "layer":[
  {"transform":[{"filter":"datum.k == 'ttl'"}],"mark":{"type":"text","align":"center","fontSize":27,"fontWeight":"bold","dy":1},"encoding":{"x":{"field":"xm","type":"quantitative","scale":{"domain":[0,1500],"nice":false,"zero":false},"axis":null}}},
  {"transform":[{"filter":"datum.k == 'lab'"}],"mark":{"type":"text","align":"left","fontSize":12,"lineHeight":16.5,"dx":3,"dy":{"expr":"-(length(split(datum.t, '\\n')) - 1) * 8.25"}},"encoding":{"x":{"field":"x0","type":"quantitative","scale":{"domain":[0,1500],"nice":false,"zero":false},"axis":null}}},
  {"transform":[{"filter":"datum.k == 'labi'"}],"mark":{"type":"text","align":"left","fontSize":12,"dx":10},"encoding":{"x":{"field":"x0","type":"quantitative","scale":{"domain":[0,1500],"nice":false,"zero":false},"axis":null}}},
  {"transform":[{"filter":"datum.k == 'num'"}],"mark":{"type":"text","align":"right","fontSize":12,"dx":-9},"encoding":{"x":{"field":"x1","type":"quantitative","scale":{"domain":[0,1500],"nice":false,"zero":false},"axis":null}}},
  {"transform":[{"filter":"datum.k == 'numt'"}],"mark":{"type":"text","align":"right","fontSize":12,"lineHeight":16.5,"dx":-3,"dy":{"expr":"-(length(split(datum.t, '\\n')) - 1) * 8.25"}},"encoding":{"x":{"field":"x1","type":"quantitative","scale":{"domain":[0,1500],"nice":false,"zero":false},"axis":null}}},
  {"transform":[{"filter":"datum.k == 'ctr'"}],"mark":{"type":"text","align":"center","fontSize":12},"encoding":{"x":{"field":"xm","type":"quantitative","scale":{"domain":[0,1500],"nice":false,"zero":false},"axis":null}}},
  {"transform":[{"filter":"datum.k == 'hdr'"}],"mark":{"type":"text","align":"center","fontSize":11,"lineHeight":15,"dy":{"expr":"-(length(split(datum.t, '\\n')) - 1) * 7.5"}},"encoding":{"x":{"field":"xm","type":"quantitative","scale":{"domain":[0,1500],"nice":false,"zero":false},"axis":null}}},
  {"transform":[{"filter":"datum.k == 'hdrs'"}],"mark":{"type":"text","align":"center","fontSize":8.8,"lineHeight":12,"dy":{"expr":"-(length(split(datum.t, '\\n')) - 1) * 6"}},"encoding":{"x":{"field":"xm","type":"quantitative","scale":{"domain":[0,1500],"nice":false,"zero":false},"axis":null}}},
  {"transform":[{"filter":"datum.k == 'hdrb'"}],"mark":{"type":"text","align":"center","fontSize":11.8,"fontWeight":"bold","lineHeight":16.5,"dy":{"expr":"-(length(split(datum.t, '\\n')) - 1) * 8.25"}},"encoding":{"x":{"field":"xm","type":"quantitative","scale":{"domain":[0,1500],"nice":false,"zero":false},"axis":null}}},
  {"transform":[{"filter":"datum.k == 'note'"}],"mark":{"type":"text","align":"right","fontSize":8.6,"dx":-1},"encoding":{"x":{"field":"x1","type":"quantitative","scale":{"domain":[0,1500],"nice":false,"zero":false},"axis":null}}},
  {"transform":[{"filter":"datum.k == 'src'"}],"mark":{"type":"text","align":"left","fontSize":11,"dx":2},"encoding":{"x":{"field":"x0","type":"quantitative","scale":{"domain":[0,1500],"nice":false,"zero":false},"axis":null}}},
  {"transform":[{"filter":"datum.k == 'q'"}],"mark":{"type":"text","align":"center","fontSize":13,"fontWeight":"bold","lineHeight":18,"dy":-9},"encoding":{"x":{"field":"xm","type":"quantitative","scale":{"domain":[0,1500],"nice":false,"zero":false},"axis":null}}},
  {"transform":[{"filter":"datum.k == 'tot'"}],"mark":{"type":"text","align":"right","fontSize":15.5,"fontWeight":"bold","dx":-3},"encoding":{"x":{"field":"x1","type":"quantitative","scale":{"domain":[0,1500],"nice":false,"zero":false},"axis":null}}},
  {"transform":[{"filter":"datum.k == 'val'"}],"mark":{"type":"text","align":"center","fontSize":18,"fontWeight":"bold"},"encoding":{"x":{"field":"xm","type":"quantitative","scale":{"domain":[0,1500],"nice":false,"zero":false},"axis":null}}},
  {"transform":[{"filter":"datum.k == 'sgt'"}],"mark":{"type":"text","align":"right","fontSize":22,"fontWeight":"bold","dx":-4},"encoding":{"x":{"field":"x1","type":"quantitative","scale":{"domain":[0,1500],"nice":false,"zero":false},"axis":null}}},
  {"transform":[{"filter":"datum.k == 'sgs'"}],"mark":{"type":"text","align":"right","fontSize":15,"fontWeight":"bold","lineHeight":20,"dx":-4,"dy":-10},"encoding":{"x":{"field":"x1","type":"quantitative","scale":{"domain":[0,1500],"nice":false,"zero":false},"axis":null}}},
  {"transform":[{"filter":"datum.k == 'big'"}],"mark":{"type":"text","align":"center","fontSize":48,"fontWeight":"bold"},"encoding":{"x":{"field":"xm","type":"quantitative","scale":{"domain":[0,1500],"nice":false,"zero":false},"axis":null}}},
  {"transform":[{"filter":"datum.k == 'wsg'"}],"mark":{"type":"text","align":"center","fontSize":14.5,"fontWeight":"bold"},"encoding":{"x":{"field":"xm","type":"quantitative","scale":{"domain":[0,1500],"nice":false,"zero":false},"axis":null}}},
  {"transform":[{"filter":"datum.k == 'fr'"}],"mark":{"type":"text","align":"right","fontSize":11.5,"dx":-2},"encoding":{"x":{"field":"x1","type":"quantitative","scale":{"domain":[0,1500],"nice":false,"zero":false},"axis":null}}},
  {"transform":[{"filter":"datum.k == 'fc'"}],"mark":{"type":"text","align":"center","fontSize":11.5},"encoding":{"x":{"field":"xm","type":"quantitative","scale":{"domain":[0,1500],"nice":false,"zero":false},"axis":null}}},
  {"transform":[{"filter":"datum.k == 'frb'"}],"mark":{"type":"text","align":"right","fontSize":11.5,"fontWeight":"bold","dx":-2},"encoding":{"x":{"field":"x1","type":"quantitative","scale":{"domain":[0,1500],"nice":false,"zero":false},"axis":null}}},
  {"transform":[{"filter":"datum.k == 'flb'"}],"mark":{"type":"text","align":"left","fontSize":11.5,"fontWeight":"bold","dx":2},"encoding":{"x":{"field":"x0","type":"quantitative","scale":{"domain":[0,1500],"nice":false,"zero":false},"axis":null}}}
 ]}
]
}
